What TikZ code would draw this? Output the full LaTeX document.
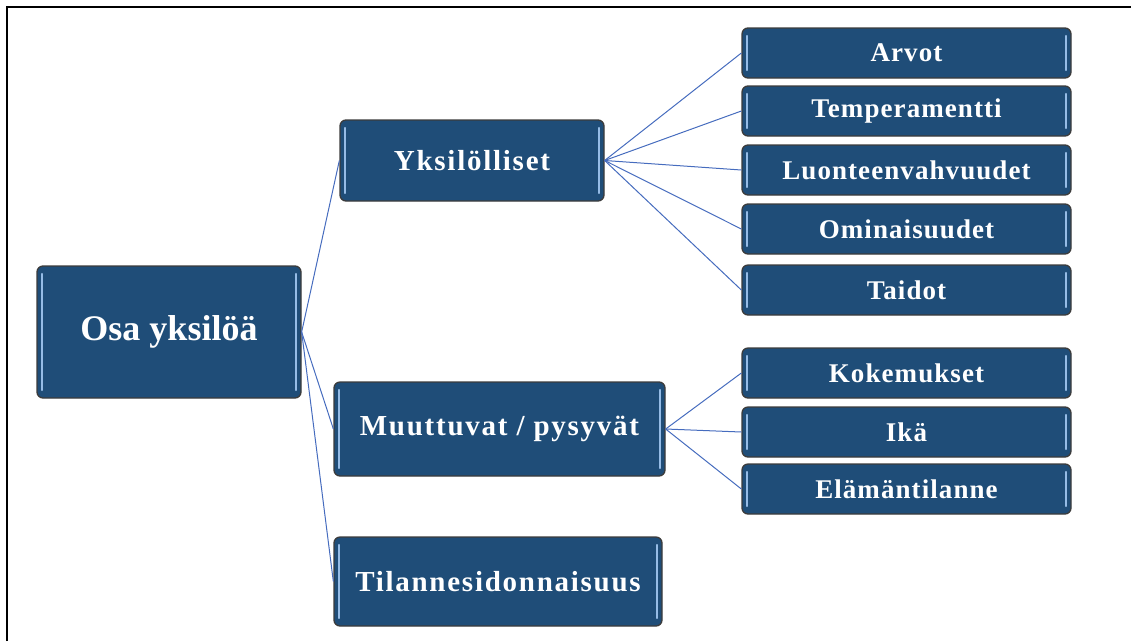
\documentclass[tikz,border=0pt]{standalone}
\usepackage{fontspec}
\setmainfont{Liberation Serif}
\usetikzlibrary{positioning}

\definecolor{boxblue}{RGB}{31,77,120}
\definecolor{boxedge}{RGB}{60,60,60}
\definecolor{shine}{RGB}{150,188,230}
\definecolor{linkblue}{RGB}{70,108,190}

\tikzset{
	gloss/.style={fill=boxblue, draw=boxedge, line width=1.3pt, rounded corners=6pt,
		inner sep=0pt, text=white, font=\bfseries,
		path picture={
			\draw[shine, line width=2.2pt, line cap=round]
				([xshift=5pt,yshift=-8pt]path picture bounding box.north west) --
				([xshift=5pt,yshift=8pt]path picture bounding box.south west);
			\draw[shine, line width=2.2pt, line cap=round]
				([xshift=-5pt,yshift=-8pt]path picture bounding box.north east) --
				([xshift=-5pt,yshift=8pt]path picture bounding box.south east);
		}},
	link/.style={draw=linkblue, line width=1pt}
}

\begin{document}
\begin{tikzpicture}[x=1pt, y=1pt]

	\useasboundingbox (0,0) rectangle (1131,-641);

	%% The frame (top and left edge only)
	\draw[line width=1.5pt] (7,-641) -- (7,-7) -- (1131,-7);

	%% The root
	\begin{scope}[every node/.style={gloss, minimum width=264pt, minimum height=132pt,
			font=\bfseries\fontsize{36}{40}\selectfont}]
		\node at (169,-332) (root) {Osa yksilöä};
	\end{scope}

	%% The middle column
	\begin{scope}[every node/.style={gloss,
			font=\bfseries\fontsize{29}{34}\selectfont\addfontfeature{LetterSpace=6}}]
		\node[minimum width=264pt, minimum height=81pt] at (472,-160.5) (yks) {Yksilölliset};
		\node[minimum width=331pt, minimum height=94pt] at (499.5,-429) (muu) {Muuttuvat / pysyvät};
		\node[minimum width=328pt, minimum height=89pt] at (498,-581.5) (til) {Tilannesidonnaisuus};
	\end{scope}

	%% The leaves
	\begin{scope}[every node/.style={gloss, minimum width=329pt, minimum height=50pt,
			font=\bfseries\fontsize{27}{30}\selectfont\addfontfeature{LetterSpace=4}}]
		\node at (906.5, -53) (arv) {Arvot};
		\node at (906.5,-111) (tem) {Temperamentti};
		\node at (906.5,-170) (luo) {Luonteenvahvuudet};
		\node at (906.5,-229) (omi) {Ominaisuudet};
		\node at (906.5,-290) (tai) {Taidot};
		\node at (906.5,-373) (kok) {Kokemukset};
		\node at (906.5,-432) (ika) {Ikä};
		\node at (906.5,-489) (ela) {Elämäntilanne};
	\end{scope}

	%% The connectors
	\foreach \n in {yks, muu, til}
		\draw[link] (root.east) -- (\n.west);
	\foreach \n in {arv, tem, luo, omi, tai}
		\draw[link] (yks.east) -- (\n.west);
	\foreach \n in {kok, ika, ela}
		\draw[link] (muu.east) -- (\n.west);

\end{tikzpicture}
\end{document}
